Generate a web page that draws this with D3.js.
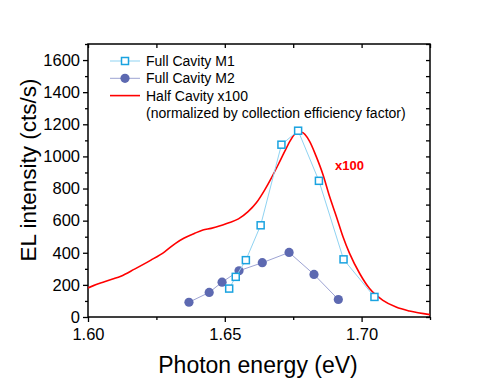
<!DOCTYPE html>
<html>
<head>
<meta charset="utf-8">
<script src="https://cdn.jsdelivr.net/npm/d3@7"></script>
<style>
  body { margin: 0; background: #fff; }
  text { font-family: "Liberation Sans", Arial, sans-serif; }
</style>
</head>
<body>
<div id="chart"></div>
<script>
// Full cavity M1 (open squares)
const m1Energy = [1.6516, 1.6540, 1.6577, 1.6631, 1.6707, 1.6768, 1.6844, 1.6934, 1.7047];
const m1Counts = [177, 250, 354, 571, 1073, 1160, 848, 359, 125];
// Full cavity M2 (filled circles)
const m2Energy = [1.6369, 1.6443, 1.6490, 1.6552, 1.6637, 1.6735, 1.6826, 1.6915];
const m2Counts = [92, 153, 217, 288, 338, 402, 265, 109];
// Half cavity x100 spectrum
const halfEnergy = [1.600, 1.603, 1.606, 1.609, 1.612, 1.617, 1.623, 1.628, 1.632, 1.635, 1.639, 1.642,
  1.645, 1.648, 1.651, 1.655, 1.6585, 1.6616, 1.6646, 1.667, 1.6695, 1.6719, 1.674, 1.6761, 1.678,
  1.681, 1.6834, 1.6859, 1.6883, 1.6908, 1.6932, 1.6956, 1.6993, 1.7029, 1.7078, 1.7126, 1.7175, 1.725];
const halfCounts = [181, 203, 219, 236, 254, 298, 354, 406, 459, 490, 521, 542,
  552, 566, 584, 611, 656, 713, 792, 865, 948, 1031, 1100, 1146, 1150,
  1094, 1000, 886, 750, 625, 500, 396, 271, 177, 104, 62, 37, 15];

const xMajor = [1.60, 1.65, 1.70];
const xMinor = [1.625, 1.675, 1.725];
const yMajor = [0, 200, 400, 600, 800, 1000, 1200, 1400, 1600];
const yMinor = [100, 300, 500, 700, 900, 1100, 1300, 1500, 1700];

const legendLabels = ["Full Cavity M1", "Full Cavity M2", "Half Cavity x100",
  "(normalized by collection efficiency factor)"];

const W = 498, H = 381;
const margin = {left: 88, right: 68, top: 44, bottom: 64};
const w = W - margin.left - margin.right;
const h = H - margin.top - margin.bottom;

const svg = d3.select("#chart").append("svg")
  .attr("width", W).attr("height", H);
const g = svg.append("g")
  .attr("transform", "translate(" + margin.left + "," + margin.top + ")");

const x = d3.scaleLinear().domain([1.60, 1.725]).range([0, w]);
const y = d3.scaleLinear().domain([0, 1700]).range([h, 0]);

// axes: left/bottom outward, top/right inward
function styleAxis(sel) {
  sel.select(".domain").remove();
  sel.selectAll("line").attr("stroke", "#000").attr("stroke-width", 1.3);
}
g.append("g").attr("transform", "translate(0," + h + ")")
  .call(d3.axisBottom(x).tickValues(xMajor).tickSize(5).tickFormat(d3.format(".2f")).tickPadding(6))
  .call(styleAxis)
  .selectAll("text").attr("font-size", 16.5).attr("fill", "#000");
g.append("g").attr("transform", "translate(0," + h + ")")
  .call(d3.axisBottom(x).tickValues(xMinor).tickSize(3).tickFormat(""))
  .call(styleAxis);
g.append("g")
  .call(d3.axisLeft(y).tickValues(yMajor).tickSize(5).tickPadding(3).tickFormat(d3.format("d")))
  .call(styleAxis)
  .selectAll("text").attr("font-size", 16.5).attr("fill", "#000");
g.append("g")
  .call(d3.axisLeft(y).tickValues(yMinor).tickSize(3).tickFormat(""))
  .call(styleAxis);
g.append("g")
  .call(d3.axisTop(x).tickValues(xMajor.concat(xMinor)).tickSize(-4).tickFormat(""))
  .call(styleAxis);
g.append("g").attr("transform", "translate(" + w + ",0)")
  .call(d3.axisRight(y).tickValues(yMajor.concat(yMinor)).tickSize(-4).tickFormat(""))
  .call(styleAxis);

g.append("rect").attr("x", 0).attr("y", 0).attr("width", w).attr("height", h)
  .attr("fill", "none").attr("stroke", "#000").attr("stroke-width", 1.5);

const clip = svg.append("clipPath").attr("id", "clip")
  .append("rect").attr("width", w).attr("height", h);
const plot = g.append("g").attr("clip-path", "url(#clip)");

// half cavity curve
const halfData = halfEnergy.map((e, i) => ({e: e, v: halfCounts[i]}));
plot.append("path").datum(halfData)
  .attr("fill", "none").attr("stroke", "#ff0000").attr("stroke-width", 1.6)
  .attr("d", d3.line().curve(d3.curveMonotoneX).x(d => x(d.e)).y(d => y(d.v)));

// M2
const m2Data = m2Energy.map((e, i) => ({e: e, v: m2Counts[i]}));
plot.append("path").datum(m2Data)
  .attr("fill", "none").attr("stroke", "#9da3d3").attr("stroke-width", 1)
  .attr("d", d3.line().x(d => x(d.e)).y(d => y(d.v)));
plot.selectAll(".m2").data(m2Data).enter().append("circle")
  .attr("cx", d => x(d.e)).attr("cy", d => y(d.v)).attr("r", 4.6)
  .attr("fill", "#5d69b1");

// M1
const m1Data = m1Energy.map((e, i) => ({e: e, v: m1Counts[i]}));
plot.append("path").datum(m1Data)
  .attr("fill", "none").attr("stroke", "#8fd3f2").attr("stroke-width", 1)
  .attr("d", d3.line().x(d => x(d.e)).y(d => y(d.v)));
plot.selectAll(".m1").data(m1Data).enter().append("rect")
  .attr("x", d => x(d.e) - 3.5).attr("y", d => y(d.v) - 3.5)
  .attr("width", 7).attr("height", 7)
  .attr("fill", "#fff").attr("stroke", "#1aa3e0").attr("stroke-width", 1.5);

// x100 label
g.append("text").attr("x", x(1.6903)).attr("y", y(915))
  .attr("font-size", 13).attr("font-weight", "bold").attr("fill", "#ff0000").text("x100");

// legend
const lg = g.append("g").attr("transform", "translate(22,17)");
const rowH = 17.3;
lg.append("line").attr("x1", 0).attr("x2", 30).attr("y1", 0).attr("y2", 0)
  .attr("stroke", "#8fd3f2").attr("stroke-width", 1);
lg.append("rect").attr("x", 11.5).attr("y", -3.5).attr("width", 7).attr("height", 7)
  .attr("fill", "#fff").attr("stroke", "#1aa3e0").attr("stroke-width", 1.5);
lg.append("line").attr("x1", 0).attr("x2", 30).attr("y1", rowH).attr("y2", rowH)
  .attr("stroke", "#9da3d3").attr("stroke-width", 1);
lg.append("circle").attr("cx", 15).attr("cy", rowH).attr("r", 4.6).attr("fill", "#5d69b1");
lg.append("line").attr("x1", 0).attr("x2", 30).attr("y1", 2 * rowH).attr("y2", 2 * rowH)
  .attr("stroke", "#ff0000").attr("stroke-width", 1.6);
lg.selectAll(".lt").data(legendLabels).enter().append("text")
  .attr("x", 36).attr("y", (d, i) => i * rowH + 5)
  .attr("font-size", 14).attr("fill", "#000").text(d => d);

// axis titles
svg.append("text").attr("x", 258).attr("y", 373)
  .attr("text-anchor", "middle").attr("font-size", 23).text("Photon energy (eV)");
svg.append("text").attr("transform", "translate(36,170) rotate(-90)")
  .attr("text-anchor", "middle").attr("font-size", 22.5).text("EL intensity (cts/s)");
</script>
</body>
</html>
